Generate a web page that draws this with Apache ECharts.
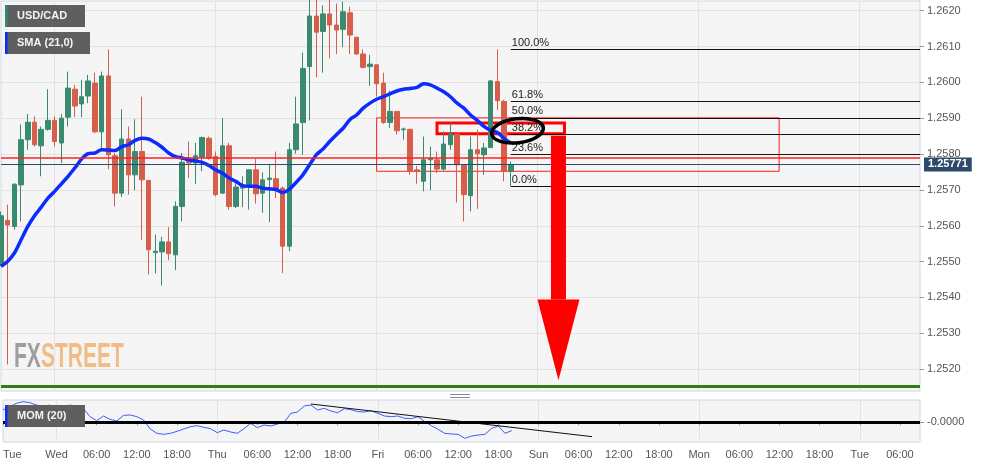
<!DOCTYPE html>
<html><head><meta charset="utf-8">
<script src="https://cdn.jsdelivr.net/npm/echarts@6/dist/echarts.min.js"></script>
<style>html,body{margin:0;padding:0;background:#fff}#c{width:991px;height:467px}</style>
</head><body><div id="c"></div>
<script>
// ---------- data (hourly USD/CAD candles) ----------
const openP = [1.25496,1.25615,1.25598,1.25714,1.25840,1.25889,1.25823,1.25869,1.25894,1.25831,
 1.25903,1.25981,1.25940,1.25962,1.25998,1.25862,1.26018,1.25795,1.25691,1.25842,
 1.25742,1.25807,1.25726,1.25525,1.25527,1.25555,1.25519,1.25654,1.25779,1.25775,
 1.25791,1.25844,1.25793,1.25691,1.25823,1.25654,1.25705,1.25710,1.25756,1.25691,
 1.25729,1.25731,1.25705,1.25543,1.25812,1.25888,1.26044,1.26185,1.26142,1.26191,
 1.26160,1.26148,1.26194,1.26126,1.26079,1.26044,1.26049,1.25998,1.25888,1.25919,
 1.25868,1.25869,1.25756,1.25724,1.25784,1.25784,1.25758,1.25826,1.25856,1.25770,
 1.25684,1.25812,1.25798,1.25818,1.26002,1.25947,1.25752];
const closeP = [1.25628,1.25602,1.25716,1.25840,1.25889,1.25826,1.25869,1.25894,1.25835,1.25900,
 1.25984,1.25934,1.25960,1.26004,1.25862,1.26018,1.25798,1.25691,1.25842,1.25742,
 1.25807,1.25728,1.25533,1.25529,1.25555,1.25522,1.25654,1.25777,1.25775,1.25795,
 1.25846,1.25789,1.25687,1.25823,1.25654,1.25708,1.25712,1.25756,1.25689,1.25728,
 1.25733,1.25702,1.25543,1.25812,1.25884,1.26039,1.26185,1.26140,1.26191,1.26160,
 1.26146,1.26197,1.26132,1.26079,1.26042,1.26051,1.25996,1.25888,1.25919,1.25865,
 1.25870,1.25752,1.25753,1.25784,1.25788,1.25758,1.25828,1.25856,1.25770,1.25687,
 1.25812,1.25801,1.25817,1.26004,1.25949,1.25752,1.25771];
const lowP = [1.25488,1.25213,1.25589,1.25612,1.25812,1.25821,1.25738,1.25865,1.25821,1.25775,
 1.25877,1.25903,1.25903,1.25942,1.25858,1.25814,1.25758,1.25654,1.25680,1.25687,
 1.25699,1.25561,1.25464,1.25467,1.25433,1.25504,1.25476,1.25612,1.25733,1.25717,
 1.25752,1.25784,1.25682,1.25689,1.25645,1.25649,1.25652,1.25645,1.25662,1.25636,
 1.25610,1.25677,1.25468,1.25529,1.25801,1.25798,1.25894,1.26014,1.26027,1.26067,
 1.26079,1.26098,1.26079,1.26077,1.26039,1.25990,1.25960,1.25884,1.25872,1.25854,
 1.25840,1.25742,1.25717,1.25696,1.25699,1.25747,1.25754,1.25812,1.25665,1.25612,
 1.25640,1.25647,1.25742,1.25817,1.25923,1.25724,1.25710];
const highP = [1.25640,1.25659,1.25718,1.25883,1.25912,1.25905,1.25877,1.25981,1.25905,1.25912,
 1.26030,1.25993,1.26007,1.26021,1.26027,1.26030,1.26092,1.25803,1.25925,1.25877,
 1.25897,1.25960,1.25728,1.25575,1.25569,1.25596,1.25668,1.25803,1.25835,1.25832,
 1.25849,1.25849,1.25807,1.25900,1.25831,1.25721,1.25738,1.25758,1.25786,1.25749,
 1.25770,1.25807,1.25710,1.25831,1.25960,1.26083,1.26240,1.26235,1.26215,1.26230,
 1.26220,1.26225,1.26211,1.26126,1.26092,1.26077,1.26049,1.26027,1.25977,1.25919,
 1.25874,1.25869,1.25767,1.25849,1.25821,1.25807,1.25863,1.25888,1.25856,1.25770,
 1.25849,1.25868,1.25831,1.26007,1.26092,1.25951,1.25779];
const sma21 = [1.25487,1.25501,1.25524,1.25561,1.25598,1.25628,1.25652,1.25677,1.25696,1.25717,
 1.25738,1.25761,1.25786,1.25801,1.25803,1.25812,1.25811,1.25810,1.25821,1.25826,
 1.25838,1.25844,1.25842,1.25832,1.25819,1.25803,1.25793,1.25789,1.25784,1.25781,
 1.25777,1.25768,1.25756,1.25747,1.25733,1.25724,1.25712,1.25710,1.25710,1.25705,
 1.25703,1.25701,1.25693,1.25702,1.25721,1.25742,1.25770,1.25798,1.25814,1.25835,
 1.25854,1.25872,1.25896,1.25909,1.25928,1.25942,1.25953,1.25960,1.25968,1.25976,
 1.25981,1.25983,1.25986,1.25996,1.25993,1.25984,1.25974,1.25960,1.25942,1.25928,
 1.25909,1.25894,1.25877,1.25866,1.25860,1.25844,1.25831];
const mom20 = [0.0037,0.0047,0.0057,0.0062,0.0059,0.0052,0.0047,0.0052,0.0037,0.0039,
 0.0052,0.0047,0.0042,0.0017,0.0005,0.0019,0.0009,0.0004,0.0021,0.0022,
 0.0017,0.0007,-0.0020,-0.0033,-0.0036,-0.0033,-0.0027,-0.0020,-0.0013,-0.0010,
 -0.0015,-0.0019,-0.0031,-0.0023,-0.0029,-0.0033,-0.0019,-0.0003,-0.0016,-0.0008,
 -0.0011,-0.0005,0.0000,0.0027,0.0031,0.0049,0.0052,0.0037,0.0042,0.0034,
 0.0029,0.0041,0.0038,0.0032,0.0031,0.0035,0.0027,0.0019,0.0017,0.0019,
 0.0012,0.0011,0.0017,0.0002,-0.0010,-0.0021,-0.0033,-0.0035,-0.0036,-0.0048,
 -0.0041,-0.0038,-0.0036,-0.0018,-0.0011,-0.0033,-0.0025];
const momTrend = [[46, 0.0055], [88, -0.0043]];

const yTicks = [1.2520,1.2530,1.2540,1.2550,1.2560,1.2570,1.2580,1.2590,1.2600,1.2610,1.2620];
const fibLevels = [1.26092, 1.25946, 1.25901, 1.25856, 1.25800, 1.25710];
const fibNames  = ['100.0%', '61.8%', '50.0%', '38.2%', '23.6%', '0.0%'];
const fibStartIdx = 76;
const lastPrice = 1.25771;
const redLevel = 1.25790;
const greenLevel = 1.25152;
const zoneBox = [[56, 1.25901], [116, 1.25752]];
const keyBox = [[65, 1.25887], [84, 1.25857]];
const ellipseAt = [77, 1.25865];
const arrowPrices = {top: 1.25857, headBase: 1.25394, tip: 1.25169};

// hourly categories (Saturday skipped), tick labels every 6 hours
const daySegments = [['Tue',16,24],['Wed',0,24],['Thu',0,24],['Fri',0,24],['Sun',0,24],['Mon',0,24],['Tue',0,10]];
const cats = [], catDay = [], catHour = [];
daySegments.forEach(([d, h0, h1]) => { for (let h = h0; h < h1; h++) { cats.push(d + ' ' + h); catDay.push(d); catHour.push(h); } });
const lastIdx = cats.length - 1;
const isDayStart = (i) => catHour[i] === 0;
const isLabelTick = (i) => i === 0 || (i >= 8 && catHour[i] % 6 === 0);
const labelOf = (i) => (i === 0 || catHour[i] === 0) ? catDay[i] : (String(catHour[i]).padStart(2, '0') + ':00');

const candles = openP.map((o, i) => [o, closeP[i], lowP[i], highP[i]]);
const FONT = 'Liberation Sans, Arial, sans-serif';

const hLine = (lv, lineStyle, label) => [
  {coord: [0, lv], lineStyle: lineStyle, label: label || {show: false}},
  {coord: [lastIdx, lv]}
];
const fibLines = fibLevels.map((lv, k) => [
  {coord: [fibStartIdx, lv], lineStyle: {color: '#111', width: 1, type: 'solid'},
   label: {show: true, position: 'insideStartTop', formatter: fibNames[k], color: '#222', fontSize: 11, distance: [1, 1], fontFamily: FONT}},
  {coord: [lastIdx, lv]}
]);

const option = {
  animation: false,
  backgroundColor: '#ffffff',
  textStyle: {fontFamily: FONT},
  grid: [
    {left: 1, top: 1, width: 919, height: 390, show: true, backgroundColor: '#f5f5f5', borderColor: '#cdd5e6', borderWidth: 1},
    {left: 1, top: 400, width: 919, height: 42, show: true, backgroundColor: '#f5f5f5', borderColor: '#cdd5e6', borderWidth: 1}
  ],
  xAxis: [
    {type: 'category', gridIndex: 0, data: cats, boundaryGap: false,
     axisLine: {show: false}, axisTick: {show: false}, axisLabel: {show: false},
     splitLine: {show: true, interval: (i) => isDayStart(i), lineStyle: {color: '#e2e2e2'}}},
    {type: 'category', gridIndex: 1, data: cats, boundaryGap: false,
     axisLine: {show: false},
     axisTick: {show: true, length: 3, interval: (i) => isLabelTick(i), lineStyle: {color: '#999'}},
     axisLabel: {interval: (i) => isLabelTick(i), formatter: (v, i) => labelOf(i), color: '#555', fontSize: 11, margin: 7, alignMinLabel: 'left'},
     splitLine: {show: true, interval: (i) => isDayStart(i), lineStyle: {color: '#e2e2e2'}}}
  ],
  yAxis: [
    {type: 'value', gridIndex: 0, position: 'right', min: 1.25139, max: 1.26227, splitNumber: 10,
     axisLine: {show: false},
     axisTick: {show: true, length: 4, customValues: yTicks, lineStyle: {color: '#999'}},
     axisLabel: {customValues: yTicks, formatter: (v) => v.toFixed(4), color: '#555', fontSize: 11, margin: 7},
     splitLine: {show: true, lineStyle: {color: '#e2e2e2'}}},
    {type: 'value', gridIndex: 1, position: 'right', min: -0.0059, max: 0.0067,
     axisLine: {show: false},
     axisTick: {show: true, length: 4, customValues: [0], lineStyle: {color: '#999'}},
     axisLabel: {customValues: [0], formatter: () => '-0.0000', color: '#555', fontSize: 11, margin: 7},
     splitLine: {show: false}}
  ],
  series: [
    {type: 'candlestick', name: 'USD/CAD', xAxisIndex: 0, yAxisIndex: 0, data: candles, barWidth: 5,
     itemStyle: {color: '#3a8a70', color0: '#d65e4a', borderColor: '#3a8a70', borderColor0: '#d65e4a', borderWidth: 1},
     markArea: {silent: true, data: [
       [{coord: zoneBox[0], itemStyle: {color: 'rgba(0,0,0,0)', borderColor: '#ff1a1a', borderWidth: 1}}, {coord: zoneBox[1]}],
       [{coord: keyBox[0], itemStyle: {color: 'rgba(0,0,0,0)', borderColor: '#ff0000', borderWidth: 3}}, {coord: keyBox[1]}]
     ]},
     markLine: {silent: true, symbol: ['none', 'none'], label: {show: false}, data: [
       hLine(redLevel, {color: '#ff2020', width: 1.5, type: 'solid'}),
       hLine(greenLevel, {color: '#2f7d12', width: 3, type: 'solid'}),
       hLine(lastPrice, {color: '#2d4a6b', width: 1, type: 'solid'},
         {show: true, position: 'end', distance: 4, formatter: lastPrice.toFixed(5), color: '#fff', fontWeight: 'bold', fontSize: 11,
          backgroundColor: '#2d4a6b', padding: [2, 4, 1, 4], fontFamily: FONT}),
       ...fibLines
     ]}},
    {type: 'line', name: 'SMA (21,0)', xAxisIndex: 0, yAxisIndex: 0, data: sma21, showSymbol: false, smooth: 0.3,
     lineStyle: {color: '#0b2bff', width: 3.5}, z: 3},
    {type: 'line', name: 'MOM (20)', xAxisIndex: 1, yAxisIndex: 1, data: mom20, showSymbol: false,
     lineStyle: {color: '#3a5cff', width: 1},
     markLine: {silent: true, symbol: ['none', 'none'], label: {show: false},
       data: [{yAxis: 0, lineStyle: {color: '#000', width: 3, type: 'solid'}}]}},
    {type: 'line', name: 'trend', xAxisIndex: 1, yAxisIndex: 1, data: momTrend, showSymbol: false,
     lineStyle: {color: '#111', width: 1}}
  ]
};

const chart = echarts.init(document.getElementById('c'), null, {renderer: 'canvas'});
chart.setOption(option);

const px = (i, v) => chart.convertToPixel({gridIndex: 0}, [i, v]);
const ec = px(ellipseAt[0], ellipseAt[1]);
const rEdge = px(keyBox[1][0], arrowPrices.top);
const shaftRight = rEdge[0] + 1.5, shaftW = 15, axisX = shaftRight - shaftW / 2;
const yBase = px(0, arrowPrices.headBase)[1];
const yTip = px(0, arrowPrices.tip)[1];

function legendBox(x, y, w, barColor, text) {
  return [
    {type: 'rect', shape: {x: x, y: y, width: w, height: 22}, style: {fill: '#5f5f5f'}, z: 100},
    {type: 'rect', shape: {x: x, y: y, width: 2.5, height: 22}, style: {fill: barColor}, z: 101},
    {type: 'text', x: x + 12, y: y + 11, style: {text: text, fill: '#f4f4f4', font: 'bold 11px ' + FONT, verticalAlign: 'middle'}, z: 101}
  ];
}

chart.setOption({graphic: [
  {type: 'text', x: 14, y: 340, scaleX: 0.6, style: {text: 'FX', fill: 'rgba(130,130,130,0.75)', font: 'bold 35px ' + FONT, verticalAlign: 'top'}, z: 1},
  {type: 'text', x: 41, y: 340, scaleX: 0.6, style: {text: 'STREET', fill: 'rgba(240,170,95,0.75)', font: 'bold 35px ' + FONT, verticalAlign: 'top'}, z: 1},
  ...legendBox(5, 5, 80, '#2e8b6e', 'USD/CAD'),
  ...legendBox(5, 32, 85, '#0b2bff', 'SMA (21,0)'),
  ...legendBox(5, 405, 80, '#0b2bff', 'MOM (20)'),
  {type: 'ellipse', x: ec[0], y: ec[1], rotation: 0.12, shape: {cx: 0, cy: 0, rx: 26, ry: 12},
   style: {fill: 'none', stroke: '#000', lineWidth: 3.5}, z: 50},
  {type: 'rect', shape: {x: shaftRight - shaftW, y: rEdge[1] + 2, width: shaftW, height: yBase - rEdge[1] - 2}, style: {fill: '#ff0000'}, z: 50},
  {type: 'polygon', shape: {points: [[axisX - 21, yBase], [axisX + 21, yBase], [axisX, yTip]]}, style: {fill: '#ff0000'}, z: 50},
  {type: 'line', shape: {x1: 450, y1: 394.5, x2: 470, y2: 394.5}, style: {stroke: '#8a8a8a', lineWidth: 1}},
  {type: 'line', shape: {x1: 450, y1: 397.5, x2: 470, y2: 397.5}, style: {stroke: '#8a8a8a', lineWidth: 1}}
]});
</script>
</body></html>
